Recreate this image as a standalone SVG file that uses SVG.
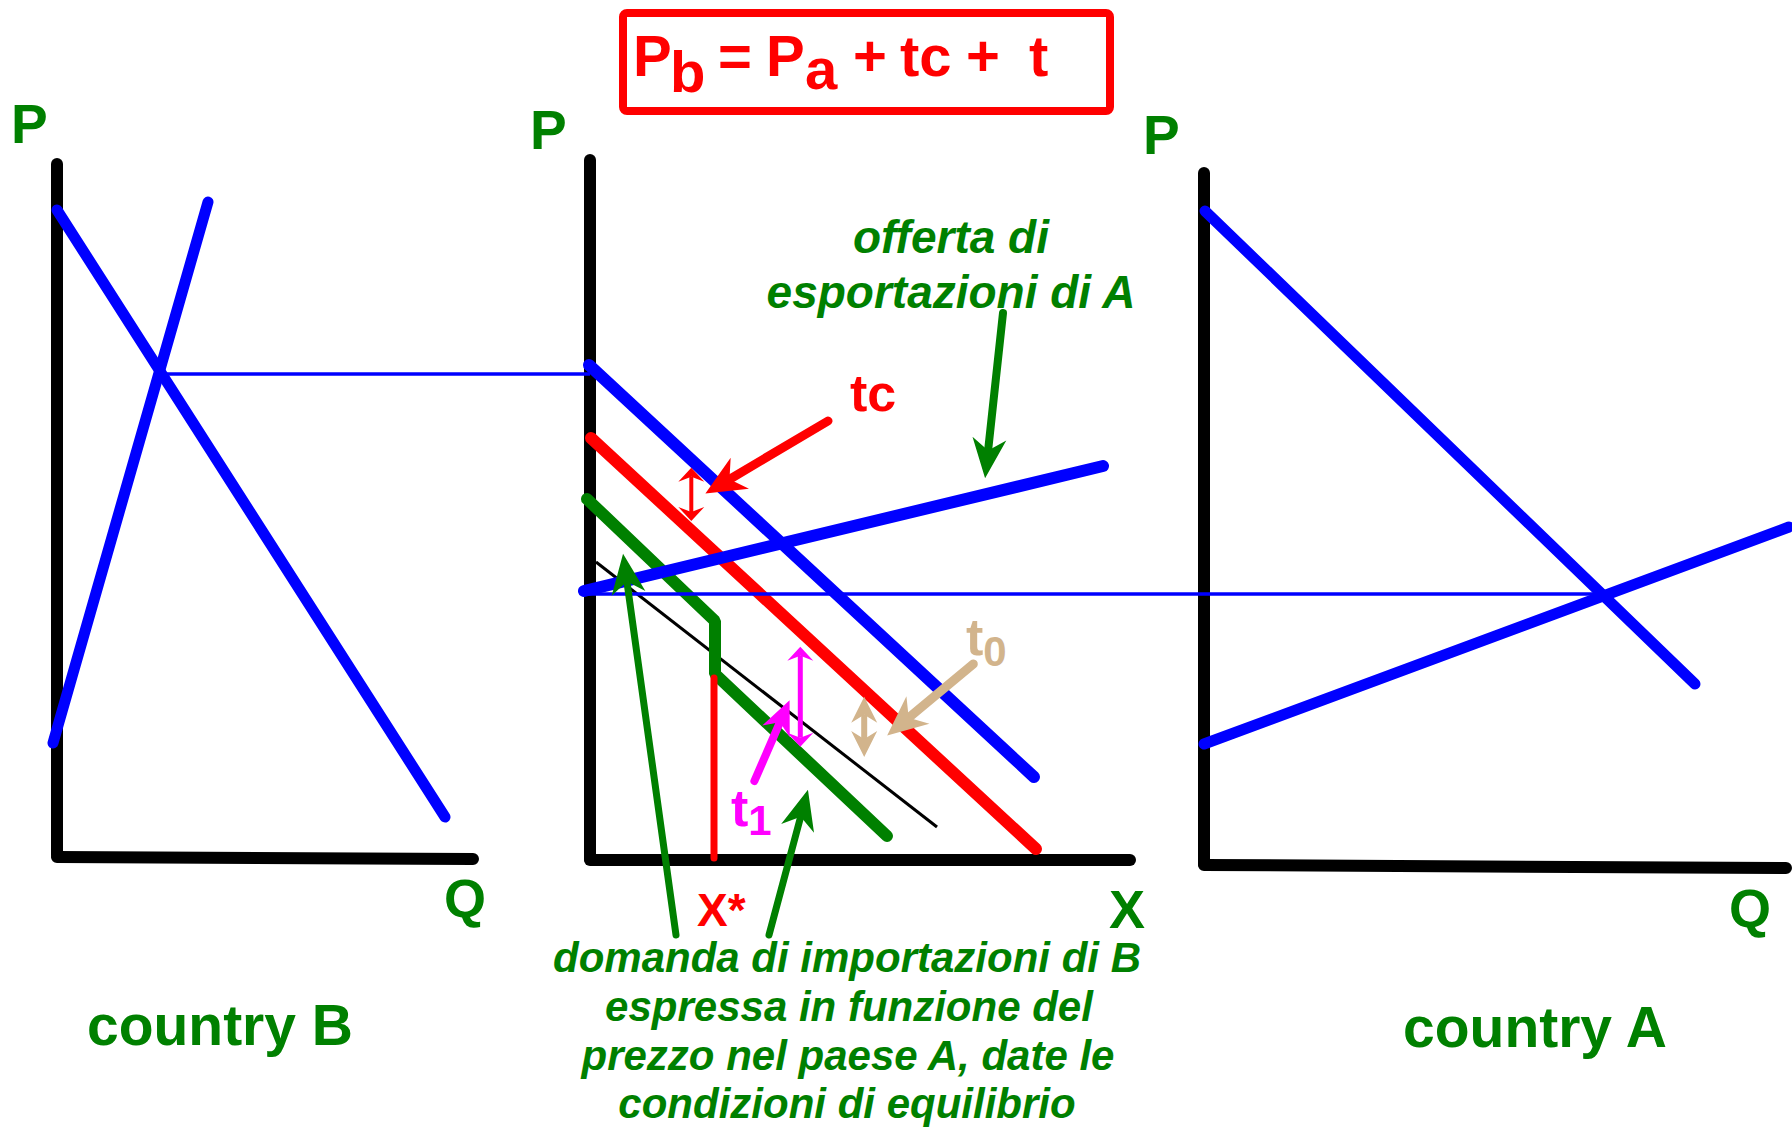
<svg xmlns="http://www.w3.org/2000/svg" width="1792" height="1132" viewBox="0 0 1792 1132">
<style>
.ax{stroke:#000;stroke-width:12;stroke-linecap:round;fill:none}
.bl{stroke:#0000FF;stroke-width:11;stroke-linecap:round;fill:none}
.bl12{stroke:#0000FF;stroke-width:12;stroke-linecap:round;fill:none}
.thin{stroke:#0000FF;stroke-width:3.5;fill:none}
.lbl{font-family:"Liberation Sans",Arial,sans-serif;font-weight:bold;fill:#008000}
.it{font-family:"Liberation Sans",Arial,sans-serif;font-weight:bold;font-style:italic;fill:#008000}
.red{font-family:"Liberation Sans",Arial,sans-serif;font-weight:bold;fill:#FF0000}
</style>
<defs>
<marker id="arrG" markerUnits="userSpaceOnUse" viewBox="0 -20 42 40" markerWidth="42" markerHeight="40" refX="12" refY="0" orient="auto" overflow="visible"><path d="M0,-17 L40,0 L0,17 L12,0 Z" fill="#008000"/></marker>
<marker id="arrR" markerUnits="userSpaceOnUse" viewBox="0 -20 42 40" markerWidth="42" markerHeight="40" refX="12" refY="0" orient="auto" overflow="visible"><path d="M0,-18 L40,0 L0,18 L12,0 Z" fill="#FF0000"/></marker>
<marker id="arrT" markerUnits="userSpaceOnUse" viewBox="0 -20 42 40" markerWidth="42" markerHeight="40" refX="12" refY="0" orient="auto" overflow="visible"><path d="M0,-18 L40,0 L0,18 L12,0 Z" fill="#D2B48C"/></marker>
<marker id="arrM" markerUnits="userSpaceOnUse" viewBox="0 -16 36 32" markerWidth="36" markerHeight="32" refX="10" refY="0" orient="auto" overflow="visible"><path d="M0,-15 L34,0 L0,15 L10,0 Z" fill="#FF00FF"/></marker>
<marker id="dblR" markerUnits="userSpaceOnUse" viewBox="0 -14 16 28" markerWidth="16" markerHeight="28" refX="5" refY="0" orient="auto-start-reverse" overflow="visible"><path d="M0,-13 L14,0 L0,13 L5,0 Z" fill="#FF0000"/></marker>
<marker id="dblM" markerUnits="userSpaceOnUse" viewBox="0 -14 16 28" markerWidth="16" markerHeight="28" refX="5" refY="0" orient="auto-start-reverse" overflow="visible"><path d="M0,-13 L14,0 L0,13 L5,0 Z" fill="#FF00FF"/></marker>
<marker id="dblT" markerUnits="userSpaceOnUse" viewBox="0 -14 28 28" markerWidth="28" markerHeight="28" refX="8" refY="0" orient="auto-start-reverse" overflow="visible"><path d="M0,-13 L26,0 L0,13 L8,0 Z" fill="#D2B48C"/></marker>
</defs>
<rect width="1792" height="1132" fill="#FFFFFF"/>

<g id="title">
<rect x="623" y="13" width="487" height="98" rx="4" fill="none" stroke="#FF0000" stroke-width="8"/>
<text class="red" font-size="58"><tspan x="633" y="76">P</tspan><tspan x="670" y="92">b</tspan><tspan x="718" y="76">=</tspan><tspan x="766" y="76">P</tspan><tspan x="805" y="89">a</tspan><tspan x="853" y="76">+</tspan><tspan x="900" y="76">tc</tspan><tspan x="966" y="76">+</tspan><tspan x="1029" y="76">t</tspan></text>
</g>

<g id="countryB">
<line class="ax" x1="57" y1="164" x2="57" y2="855"/>
<line class="ax" x1="57" y1="857" x2="473" y2="859"/>
<line class="bl" x1="57" y1="210" x2="445" y2="817"/>
<line class="bl" x1="53" y1="743" x2="208" y2="202"/>
<text class="lbl" font-size="55" x="11" y="143">P</text>
<text class="lbl" font-size="54" x="444" y="917">Q</text>
<text class="lbl" font-size="57" x="220" y="1045" text-anchor="middle">country B</text>
</g>

<g id="market">
<line class="ax" x1="590" y1="160" x2="590" y2="859"/>
<line class="ax" x1="590" y1="860" x2="1130" y2="860"/>
<line class="bl12" x1="589" y1="365" x2="1034" y2="777"/>
<line x1="591" y1="438" x2="1036" y2="849" stroke="#FF0000" stroke-width="12" stroke-linecap="round"/>
<line x1="596" y1="562" x2="937" y2="827" stroke="#000" stroke-width="3"/>
<polyline points="587,499 715,621 715,674 887,836" fill="none" stroke="#008000" stroke-width="12" stroke-linecap="round" stroke-linejoin="bevel"/>
<line x1="714" y1="678" x2="714" y2="858" stroke="#FF0000" stroke-width="7" stroke-linecap="round"/>
<line class="bl12" x1="584" y1="591" x2="1103" y2="466"/>
<text class="lbl" font-size="55" x="530" y="149">P</text>
<text class="lbl" font-size="54" x="1109" y="928">X</text>
<text class="red" font-size="46" x="697" y="926">X*</text>
<text class="red" font-size="52" x="850" y="411">tc</text>
<text font-family="Liberation Sans, Arial, sans-serif" font-weight="bold" fill="#D2B48C" font-size="52" x="966" y="655">t<tspan font-size="42" dy="11">0</tspan></text>
<text font-family="Liberation Sans, Arial, sans-serif" font-weight="bold" fill="#FF00FF" font-size="52" x="731" y="826">t<tspan font-size="42" dy="9">1</tspan></text>
<text class="it" font-size="46" text-anchor="middle"><tspan x="951" y="253">offerta di</tspan><tspan x="951" y="308">esportazioni di A</tspan></text>
<text class="it" font-size="42" text-anchor="middle"><tspan x="847" y="972">domanda di importazioni di B</tspan><tspan x="849" y="1021">espressa in funzione del</tspan><tspan x="848" y="1070">prezzo nel paese A, date le</tspan><tspan x="847" y="1118">condizioni di equilibrio</tspan></text>
</g>

<g id="countryA">
<line class="ax" x1="1204" y1="173" x2="1204" y2="864"/>
<line class="ax" x1="1204" y1="865" x2="1786" y2="868"/>
<line class="bl" x1="1205" y1="211" x2="1695" y2="684"/>
<line class="bl" x1="1204" y1="744" x2="1789" y2="527"/>
<text class="lbl" font-size="55" x="1143" y="154">P</text>
<text class="lbl" font-size="54" x="1729" y="927">Q</text>
<text class="lbl" font-size="57" x="1535" y="1047" text-anchor="middle">country A</text>
</g>

<g id="connectors">
<line class="thin" x1="160" y1="374" x2="590" y2="374"/>
<line class="thin" x1="585" y1="594" x2="1604" y2="594"/>
<line x1="1003" y1="313" x2="988.1" y2="450.5" stroke="#008000" stroke-width="8" stroke-linecap="round" marker-end="url(#arrG)"/>
<line x1="828" y1="421" x2="729.5" y2="479.3" stroke="#FF0000" stroke-width="9" stroke-linecap="round" marker-end="url(#arrR)"/>
<line x1="676" y1="935" x2="626.9" y2="581.5" stroke="#008000" stroke-width="7" stroke-linecap="round" marker-end="url(#arrG)"/>
<line x1="769" y1="935" x2="800.7" y2="816.7" stroke="#008000" stroke-width="7" stroke-linecap="round" marker-end="url(#arrG)"/>
<line x1="754.4" y1="781" x2="780" y2="722.2" stroke="#FF00FF" stroke-width="8" stroke-linecap="round" marker-end="url(#arrM)"/>
<line x1="973.3" y1="664" x2="908.7" y2="717.7" stroke="#D2B48C" stroke-width="9" stroke-linecap="round" marker-end="url(#arrT)"/>
<line x1="691.3" y1="476.7" x2="691.3" y2="512" stroke="#FF0000" stroke-width="4" marker-start="url(#dblR)" marker-end="url(#dblR)"/>
<line x1="800.3" y1="655.8" x2="800.3" y2="737.7" stroke="#FF00FF" stroke-width="5" marker-start="url(#dblM)" marker-end="url(#dblM)"/>
<line x1="864.2" y1="714.7" x2="864.2" y2="739" stroke="#D2B48C" stroke-width="6" marker-start="url(#dblT)" marker-end="url(#dblT)"/>
</g>
</svg>
